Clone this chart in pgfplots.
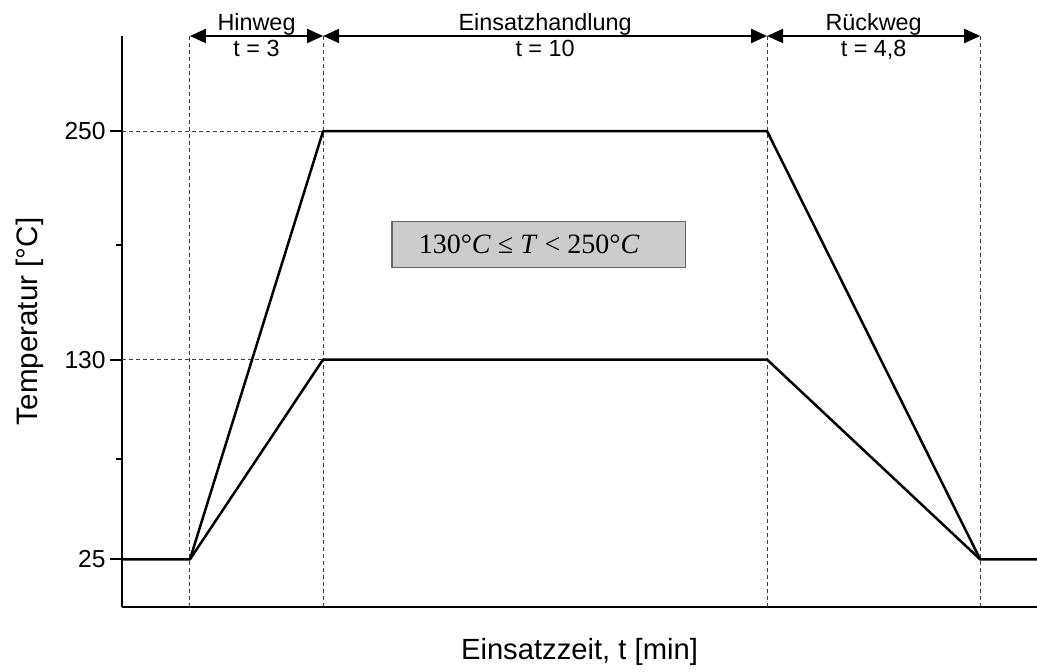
\documentclass[border=0pt]{standalone}
\usepackage{pgfplots}
\pgfplotsset{compat=1.18}
\usepackage{fontspec}
\setmainfont{Liberation Sans}
\newfontfamily\seriffont{Liberation Serif}
\usetikzlibrary{arrows.meta,calc}
\definecolor{boxgray}{RGB}{204,204,204}
\begin{document}
\begin{tikzpicture}
\begin{axis}[
 name=ax,
 scale only axis,
 width=457.5pt, height=285.5pt,
 xmin=-1.53, xmax=19.08, ymin=0, ymax=300,
 axis lines=left, axis line style={-, line width=1pt},
 xtick=\empty,
 ytick={25,130,250}, minor ytick={77.5,190},
 ytick pos=left,
 tick align=outside, major tick length=6pt, minor tick length=3pt,
 tick style={line width=1pt, black},
 yticklabel style={font=\fontsize{12.3}{14}\selectfont, inner sep=2pt},
 /pgf/number format/assume math mode=true,
 xlabel={Einsatzzeit, t [min]}, ylabel={Temperatur [°C]},
 xlabel style={font=\fontsize{14.6}{17}\selectfont, at={(axis description cs:0.5,-0.0788)}, anchor=center},
 ylabel style={font=\fontsize{14.8}{17}\selectfont, at={(axis description cs:-0.1005,0.5)}, anchor=center},
 clip=false,
]
% guide lines
\draw[black!75, line width=0.55pt, dash pattern=on 2pt off 1.5pt] (axis cs:0,0) -- (axis cs:0,300);
\draw[black!75, line width=0.55pt, dash pattern=on 2pt off 1.5pt] (axis cs:3,0) -- (axis cs:3,300);
\draw[black!75, line width=0.55pt, dash pattern=on 2pt off 1.5pt] (axis cs:13,0) -- (axis cs:13,300);
\draw[black!75, line width=0.55pt, dash pattern=on 2pt off 1.5pt] (axis cs:17.8,0) -- (axis cs:17.8,300);
\draw[black!75, line width=0.55pt, dash pattern=on 2pt off 1.5pt] (axis cs:-1.53,250) -- (axis cs:3,250);
\draw[black!75, line width=0.55pt, dash pattern=on 2pt off 1.5pt] (axis cs:-1.53,130) -- (axis cs:3,130);
% data
\addplot[black, line width=1.25pt, line join=round] coordinates {(-1.53,25) (0,25) (3,250) (13,250) (17.8,25) (19.08,25)};
\addplot[black, line width=1.25pt, line join=round] coordinates {(0,25) (3,130) (13,130) (17.8,25)};
% box
\draw[draw=black!60, fill=boxgray, line width=0.6pt] (axis cs:4.55,202.6) rectangle (axis cs:11.17,178.4);
\node[font=\seriffont\fontsize{14}{16}\selectfont] at (axis cs:7.64,190.5) {130°\textit{C} ≤ \textit{T} < 250°\textit{C}};
% arrows
\draw[{Triangle[length=8pt,width=7pt]}-{Triangle[length=8pt,width=7pt]}, line width=1pt] (axis cs:0,300) -- (axis cs:3,300);
\draw[{Triangle[length=8pt,width=7pt]}-{Triangle[length=8pt,width=7pt]}, line width=1pt] (axis cs:3,300) -- (axis cs:13,300);
\draw[{Triangle[length=8pt,width=7pt]}-{Triangle[length=8pt,width=7pt]}, line width=1pt] (axis cs:13,300) -- (axis cs:17.8,300);
\node[anchor=south, inner sep=0.3pt, font=\fontsize{11.7}{13}\selectfont] at (axis cs:1.5,300) {Hinweg};
\node[anchor=north, inner sep=2pt, font=\fontsize{11.7}{13}\selectfont] at (axis cs:1.5,300) {t = 3};
\node[anchor=south, inner sep=0.3pt, font=\fontsize{11.7}{13}\selectfont] at (axis cs:8,300) {Einsatzhandlung};
\node[anchor=north, inner sep=2pt, font=\fontsize{11.7}{13}\selectfont] at (axis cs:8,300) {t = 10};
\node[anchor=south, inner sep=0.3pt, font=\fontsize{11.7}{13}\selectfont] at (axis cs:15.4,300) {Rückweg};
\node[anchor=north, inner sep=2pt, font=\fontsize{11.7}{13}\selectfont] at (axis cs:15.4,300) {t = 4,8};
\end{axis}
\pgfresetboundingbox
\path[use as bounding box] ($(ax.south west)+(-61pt,-32.5pt)$) rectangle ($(ax.north east)+(0pt,18pt)$);
\end{tikzpicture}
\end{document}
